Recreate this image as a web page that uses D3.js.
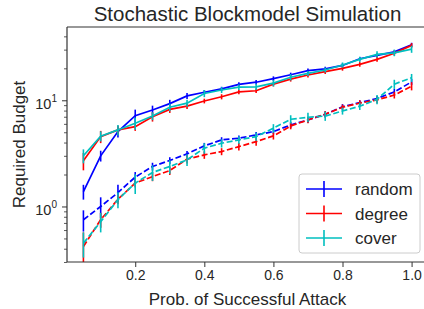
<!DOCTYPE html>
<html><head><meta charset="utf-8">
<script src="https://cdn.jsdelivr.net/npm/d3@7"></script>
<style>
html,body{margin:0;padding:0;background:#fff;}
svg{display:block;font-family:"Liberation Sans",Arial,sans-serif;}
</style></head>
<body><svg id="c" width="424" height="309"></svg>
<script>
// ---- data ----
const xs = [0.05,0.1,0.15,0.2,0.25,0.3,0.35,0.4,0.45,0.5,0.55,0.6,0.65,0.7,0.75,0.8,0.85,0.9,0.95,1.0];
const methods = ["random","degree","cover"];
const colors = ["#0000ff","#ff0000","#00bfbf"];
// solid lines (upper group)
const randomSolid = [1.38,3.0,5.07,7.17,8.1,9.3,11.0,11.9,12.8,14.1,14.8,16.0,17.4,19.0,19.8,21.3,24.6,26.5,28.6,33.3];
const randomSolidErr = [0.22,0.35,0.6,1.0,0.8,0.8,0.7,0.6,0.6,0.7,0.7,0.8,0.8,0.9,0.9,1.0,1.0,1.1,1.2,1.5];
const degreeSolid = [2.69,4.55,5.26,5.65,7.0,8.2,8.8,9.85,10.8,12.0,12.3,14.2,15.8,17.3,18.6,20.0,21.8,24.3,27.7,32.9];
const degreeSolidErr = [0.5,0.6,0.5,0.5,0.7,0.6,0.5,0.5,0.6,0.6,0.6,0.7,0.8,0.9,0.9,1.0,1.1,1.2,1.3,1.6];
const coverSolid = [3.0,4.6,5.26,6.08,7.1,8.6,9.4,11.6,12.5,13.3,13.4,14.5,16.5,17.9,19.3,21.5,24.3,27.1,28.0,30.3];
const coverSolidErr = [0.45,0.5,0.6,0.8,0.6,0.7,0.7,0.9,0.8,0.8,0.9,1.0,1.1,1.0,1.0,1.2,1.4,1.8,2.0,2.3];
// dashed lines (lower group)
const randomDashed = [0.75,1.0,1.35,1.89,2.38,2.71,3.13,3.72,4.24,4.4,4.72,5.07,5.86,6.53,7.38,8.7,9.5,10.4,12.0,14.9];
const randomDashedErr = [0.17,0.22,0.25,0.22,0.2,0.2,0.2,0.25,0.25,0.25,0.3,0.3,0.4,0.4,0.5,0.5,0.5,0.6,0.8,1.0];
const degreeDashed = [0.42,0.75,1.17,1.66,1.91,2.18,2.79,3.06,3.29,3.66,4.08,4.62,5.73,6.53,7.4,8.6,9.4,10.1,11.2,13.6];
const degreeDashedErr = [0.15,0.12,0.12,0.15,0.18,0.2,0.25,0.25,0.25,0.3,0.35,0.35,0.4,0.45,0.5,0.5,0.6,0.7,0.8,1.2];
const coverDashed = [0.45,0.72,1.16,1.66,2.09,2.38,2.75,3.54,3.94,4.24,4.55,5.46,6.63,6.92,7.1,7.93,8.8,10.2,14.2,16.3];
const coverDashedErr = [0.12,0.15,0.2,0.35,0.35,0.35,0.35,0.4,0.35,0.35,0.4,0.5,0.6,0.7,0.7,0.6,0.7,1.0,1.4,1.4];
const xTicks = [0.2,0.4,0.6,0.8,1.0];
const yMajor = [1,10];
const yMinor = [0.3,0.4,0.5,0.6,0.7,0.8,0.9,2,3,4,5,6,7,8,9,20,30,40];
const title = "Stochastic Blockmodel Simulation";
const xLabel = "Prob. of Successful Attack";
const yLabel = "Required Budget";

const series = [
  {name:"random", color:colors[0], v:randomSolid, e:randomSolidErr, dash:null},
  {name:"random", color:colors[0], v:randomDashed, e:randomDashedErr, dash:"6,2.6"},
  {name:"degree", color:colors[1], v:degreeSolid, e:degreeSolidErr, dash:null},
  {name:"degree", color:colors[1], v:degreeDashed, e:degreeDashedErr, dash:"6,2.6"},
  {name:"cover", color:colors[2], v:coverSolid, e:coverSolidErr, dash:null},
  {name:"cover", color:colors[2], v:coverDashed, e:coverDashedErr, dash:"6,2.6"}
];

// ---- layout ----
const L = 67, R = 428, T = 27, B = 262;
const txt = "#262626", spine = "#333";
const svg = d3.select("#c");
const x = d3.scaleLinear().domain([0.0025, 1.0475]).range([L, R]);
const y = d3.scaleLog().domain([0.3, 49]).range([B, T]);

svg.append("defs").append("clipPath").attr("id","clip")
  .append("rect").attr("x",L).attr("y",T).attr("width",R-L).attr("height",B-T);

const plot = svg.append("g").attr("clip-path","url(#clip)");
series.forEach(s=>{
  const g = plot.append("g");
  g.selectAll("line.err").data(xs.map((xv,i)=>({x:xv,v:s.v[i],e:s.e[i]}))).join("line")
    .attr("x1",d=>x(d.x)).attr("x2",d=>x(d.x))
    .attr("y1",d=>y(Math.max(d.v-d.e,0.01))).attr("y2",d=>y(d.v+d.e))
    .attr("stroke",s.color).attr("stroke-width",1.6);
  const line = d3.line().x((d,i)=>x(xs[i])).y(d=>y(d));
  g.append("path").datum(s.v).attr("d",line).attr("fill","none")
    .attr("stroke",s.color).attr("stroke-width",1.7)
    .attr("stroke-dasharray",s.dash);
});

// axes
const xAxis = d3.axisBottom(x).tickValues(xTicks).tickFormat(d3.format(".1f")).tickSize(5).tickPadding(3);
const gx = svg.append("g").attr("transform",`translate(0,${B})`).call(xAxis);
gx.select(".domain").remove();
gx.selectAll("line").attr("stroke",spine).attr("stroke-width",1);
gx.selectAll("text").attr("fill",txt).style("font-size","14px").attr("font-family",null);

const yAxisMinor = d3.axisLeft(y).tickValues(yMinor).tickFormat("").tickSize(3);
const gym = svg.append("g").attr("transform",`translate(${L},0)`).call(yAxisMinor);
gym.select(".domain").remove();
gym.selectAll("line").attr("stroke",spine).attr("stroke-width",0.8);
const yAxisMajor = d3.axisLeft(y).tickValues(yMajor).tickFormat("").tickSize(5);
const gy = svg.append("g").attr("transform",`translate(${L},0)`).call(yAxisMajor);
gy.select(".domain").remove();
gy.selectAll("line").attr("stroke",spine).attr("stroke-width",1);
gy.selectAll("g.tick").each(function(d){
  const t = d3.select(this).append("text").attr("fill",txt).attr("text-anchor","end")
    .attr("x",-10).attr("y",8).style("font-size","14.5px");
  t.append("tspan").text("10");
  t.append("tspan").attr("dy",-7).style("font-size","10px").text(String(Math.round(Math.log10(d))));
});

// spines
svg.append("line").attr("x1",L).attr("x2",L).attr("y1",T).attr("y2",B).attr("stroke",spine).attr("stroke-width",1.2);
svg.append("line").attr("x1",L).attr("x2",R).attr("y1",B).attr("y2",B).attr("stroke",spine).attr("stroke-width",1.2);
svg.append("line").attr("x1",L).attr("x2",R).attr("y1",T).attr("y2",T).attr("stroke",spine).attr("stroke-width",1.2);
svg.append("line").attr("x1",R).attr("x2",R).attr("y1",T).attr("y2",B).attr("stroke",spine).attr("stroke-width",1.2);

// labels
svg.append("text").attr("x",(L+R)/2).attr("y",21).attr("text-anchor","middle")
  .attr("fill",txt).style("font-size","20.5px").text(title);
svg.append("text").attr("x",(L+R)/2).attr("y",305).attr("text-anchor","middle")
  .attr("fill",txt).style("font-size","17px").text(xLabel);
svg.append("text").attr("transform",`translate(25,${(T+B)/2}) rotate(-90)`).attr("text-anchor","middle")
  .attr("fill",txt).style("font-size","17px").text(yLabel);

// legend
const lg = svg.append("g");
lg.append("rect").attr("x",299).attr("y",174).attr("width",121).attr("height",79).attr("rx",3)
  .attr("fill","#fff").attr("fill-opacity",0.8).attr("stroke","#cccccc").attr("stroke-width",1);
methods.forEach((m,i)=>{
  const cy = 189 + i*24.5;
  lg.append("line").attr("x1",306).attr("x2",342).attr("y1",cy).attr("y2",cy).attr("stroke",colors[i]).attr("stroke-width",1.6);
  lg.append("line").attr("x1",324).attr("x2",324).attr("y1",cy-8).attr("y2",cy+8).attr("stroke",colors[i]).attr("stroke-width",1.6);
  lg.append("text").attr("x",355).attr("y",cy+6).attr("fill",txt).style("font-size","17px").text(m);
});
</script></body></html>
